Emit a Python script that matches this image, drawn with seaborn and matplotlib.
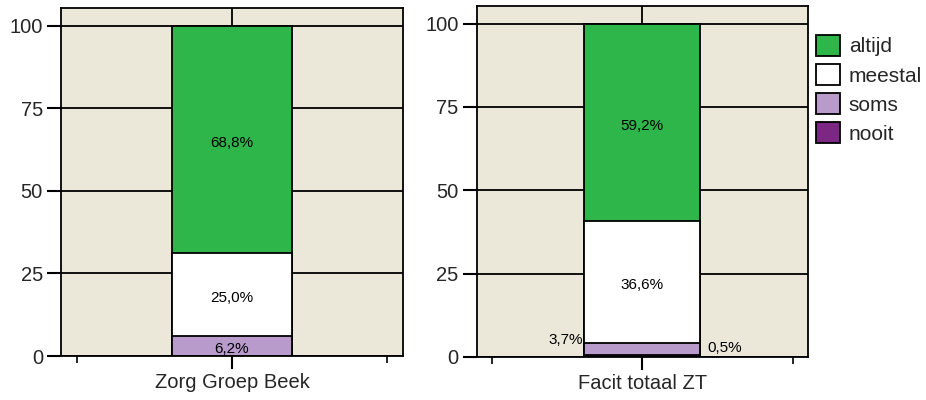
import matplotlib
matplotlib.use("Agg")
import matplotlib.pyplot as plt
import seaborn as sns
import pandas as pd
from matplotlib.patches import Patch

# ---- data ----
groups = ["Zorg Groep Beek", "Facit totaal ZT"]
categories = ["nooit", "soms", "meestal", "altijd"]  # bottom to top
beek = [0.0, 6.2, 25.0, 68.8]
facit = [0.5, 3.7, 36.6, 59.2]
legend_order = ["altijd", "meestal", "soms", "nooit"]

# ---- style ----
colors = {"altijd": "#2FB64A", "meestal": "#FFFFFF", "soms": "#B89BCB", "nooit": "#7B2783"}
BG = "#ECE8D9"
LW = 1.3
BAR_W = 0.77
small_side = {"soms": "left", "nooit": "right"}

sns.set_style("white")
plt.rcParams["font.family"] = ["Liberation Sans", "DejaVu Sans"]

fig = plt.figure(figsize=(9.26, 4.0), dpi=100)
positions = [[0.0659, 0.11, 0.3693, 0.87], [0.5148, 0.1075, 0.3575, 0.8775]]

for group, values, pos in zip(groups, [beek, facit], positions):
    ax = fig.add_axes(pos)
    ax.set_facecolor(BG)
    df = pd.DataFrame({"group": [group] * len(categories), "cat": categories, "value": values})
    df["top"] = df["value"].cumsum()
    df["bottom"] = df["top"] - df["value"]

    ax.axvline(0, color="black", lw=LW, zorder=1)
    for i in range(len(categories) - 1, -1, -1):
        row = df.iloc[[i]]
        if row["value"].iloc[0] <= 0:
            continue
        sns.barplot(data=row, x="group", y="top", color=colors[row["cat"].iloc[0]],
                    width=BAR_W, edgecolor="black", linewidth=LW, saturation=1,
                    errorbar=None, ax=ax, zorder=3)

    for _, r in df.iterrows():
        v = r["value"]
        if v <= 0:
            continue
        lab = f"{v:.1f}".replace(".", ",") + "%"
        if v >= 5:
            ax.text(0, (r["bottom"] + r["top"]) / 2 - 1, lab, ha="center", va="center",
                    fontsize=11, color="black", zorder=5)
        else:
            side = small_side[r["cat"]]
            if side == "left":
                ax.text(-BAR_W / 2 - 0.01, r["top"] - 1.2, lab, ha="right", va="bottom",
                        fontsize=11, color="black", zorder=5)
            else:
                ax.text(BAR_W / 2 + 0.05, r["top"], lab, ha="left", va="bottom",
                        fontsize=11, color="black", zorder=5)

    ax.set_xlim(-1.1, 1.1)
    ax.set_ylim(0, 105.3)
    ax.set_yticks([0, 25, 50, 75, 100])
    ax.yaxis.grid(True, color="black", lw=LW, zorder=1)
    ax.set_axisbelow(True)
    ax.set_xticks([0])
    ax.set_xticklabels([group])
    ax.set_xticks([-1, 1], minor=True)
    ax.set_xlabel("")
    ax.set_ylabel("")
    ax.tick_params(axis="x", which="major", length=9.5, width=1.5, labelsize=14.5, pad=3,
                   bottom=True, color="black")
    ax.tick_params(axis="x", which="minor", length=5, width=1.2, bottom=True, color="black")
    ax.tick_params(axis="y", length=10, width=1.5, labelsize=14.5, pad=3, left=True, color="black")
    for s in ax.spines.values():
        s.set_visible(True)
        s.set_color("black")
        s.set_linewidth(LW)
        s.set_zorder(6)

handles = [Patch(facecolor=colors[c], edgecolor="black", linewidth=LW, label=c) for c in legend_order]
fig.legend(handles=handles, loc="upper left", bbox_to_anchor=(0.8812, 0.9125), frameon=False,
           fontsize=15, handlelength=1.15, handleheight=1.15, handletextpad=0.43,
           labelspacing=0.37, borderpad=0, borderaxespad=0)

fig.savefig("out.png", dpi=100)
